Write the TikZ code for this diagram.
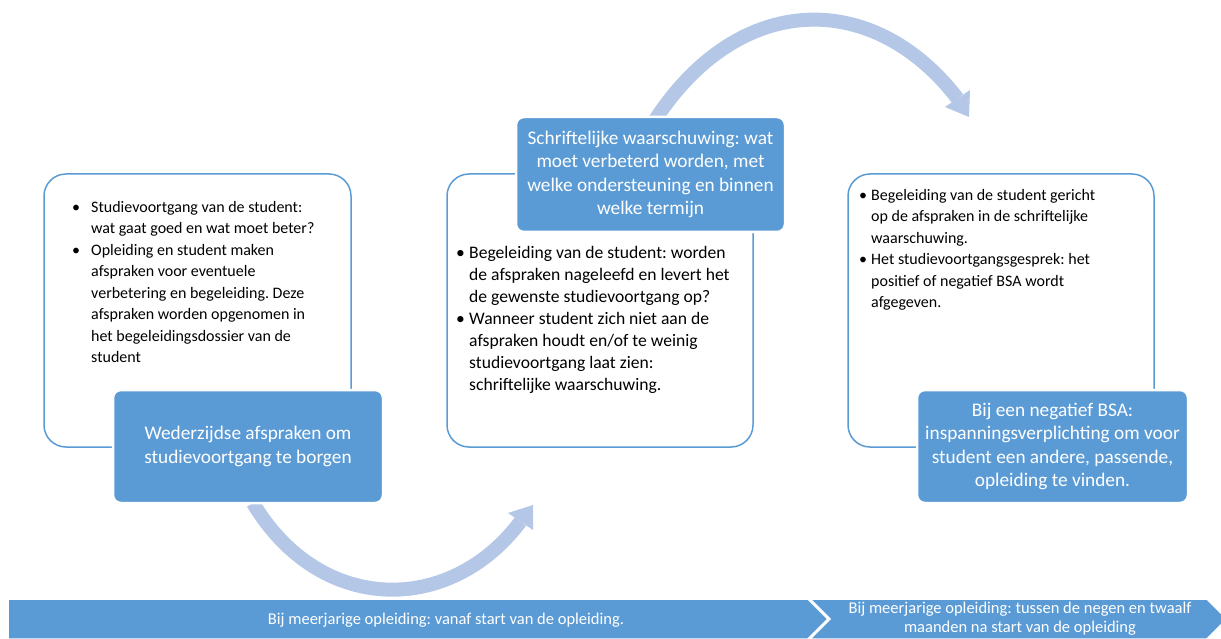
\documentclass[tikz,border=0pt]{standalone}
\usepackage{fontspec}
\setmainfont{Carlito}
\usepackage{array}
\definecolor{mblue}{HTML}{5B9BD5}
\definecolor{lblue}{HTML}{B4C7E7}
\frenchspacing
\begin{document}
\begin{tikzpicture}[x=1pt,y=-1pt,
  obox/.style={draw=mblue, line width=1.5pt, fill=white, rounded corners=22pt, inner sep=0pt},
  fbox/.style={fill=mblue, draw=white, line width=2.5pt, rounded corners=8pt, text=white, align=center, font=\fontsize{19.3}{23.3}\selectfont, inner sep=0pt},
  btxt/.style={anchor=north west, inner sep=0pt, font=\fontsize{16}{21.5}\selectfont, text=black},
  band/.style={fill=mblue, draw=white, line width=1.5pt},
  bandtxt/.style={text=white, align=center, font=\fontsize{16.5}{19}\selectfont, inner sep=0pt},
  arcline/.style={draw=lblue, line width=14pt},
  arrowhead/.style={fill=lblue}]
\useasboundingbox (0,0) rectangle (1221,639);

% curved arrows
\coordinate (a1s) at (253,503);
\coordinate (a1e) at (520.5,521.5);
\draw[arcline] (a1s) .. controls (320,615) and (450,615.5) .. (a1e);
\fill[arrowhead] (508,513) -- (533,505) -- (533,530) -- cycle;
\coordinate (a2s) at (655,120);
\coordinate (a2e) at (957.5,98.5);
\draw[arcline] (a2s) .. controls (740,-10) and (874,-10) .. (a2e);
\fill[arrowhead] (945,107) -- (970,90) -- (969,117) -- cycle;

% outline boxes
\node[obox, minimum width=307pt, minimum height=273pt] (lbox) at (197.5,310.5) {};
\node[obox, minimum width=306pt, minimum height=273pt] (mbox) at (600,310.5) {};
\node[obox, minimum width=306pt, minimum height=273pt] (rbox) at (1001,310.5) {};

% bullet texts
\node[btxt] (ltext) at (72,197) {\begin{tabular}{@{}p{19pt}@{}l@{}}
\textbullet & Studievoortgang van de student:\\
 & wat gaat goed en wat moet beter?\\
\textbullet & Opleiding en student maken\\
 & afspraken voor eventuele\\
 & verbetering en begeleiding. Deze\\
 & afspraken worden opgenomen in\\
 & het begeleidingsdossier van de\\
 & student
\end{tabular}};
\node[btxt, font=\fontsize{17.6}{22}\selectfont] (mtext) at (456,242.6) {\begin{tabular}{@{}p{13pt}@{}l@{}}
\textbullet & Begeleiding van de student: worden\\
 & de afspraken nageleefd en levert het\\
 & de gewenste studievoortgang op?\\
\textbullet & Wanneer student zich niet aan de\\
 & afspraken houdt en/of te weinig\\
 & studievoortgang laat zien:\\
 & schriftelijke waarschuwing.
\end{tabular}};
\node[btxt] (rtext) at (859,185) {\begin{tabular}{@{}p{12pt}@{}l@{}}
\textbullet & Begeleiding van de student gericht\\
 & op de afspraken in de schriftelijke\\
 & waarschuwing.\\
\textbullet & Het studievoortgangsgesprek: het\\
 & positief of negatief BSA wordt\\
 & afgegeven.
\end{tabular}};

% filled boxes
\node[fbox, minimum width=270pt, minimum height=113pt] (lfill) at (248,446.5)
  {Wederzijdse afspraken om\\studievoortgang te borgen};
\node[fbox, minimum width=269pt, minimum height=115pt] (mfill) at (650.5,174.5)
  {Schriftelijke waarschuwing: wat\\moet verbeterd worden, met\\welke ondersteuning en binnen\\welke termijn};
\node[fbox, minimum width=271pt, minimum height=113pt] (rfill) at (1052.5,446.5)
  {Bij een negatief BSA:\\inspanningsverplichting om voor\\student een andere, passende,\\opleiding te vinden.};

% bottom band
\begin{scope}
\clip (0,0) rectangle (1221,639);
\draw[band] (8,599) -- (808,599) -- (828,619) -- (808,639) -- (8,639) -- cycle;
\draw[band] (810,599) -- (1207,599) -- (1227,619) -- (1207,639) -- (810,639) -- (830,619) -- cycle;
\end{scope}
\node[bandtxt] (b1) at (446,620) {Bij meerjarige opleiding: vanaf start van de opleiding.};
\node[bandtxt] (b2) at (1020,618.5) {Bij meerjarige opleiding: tussen de negen en twaalf\\maanden na start van de opleiding};
\end{tikzpicture}
\end{document}
